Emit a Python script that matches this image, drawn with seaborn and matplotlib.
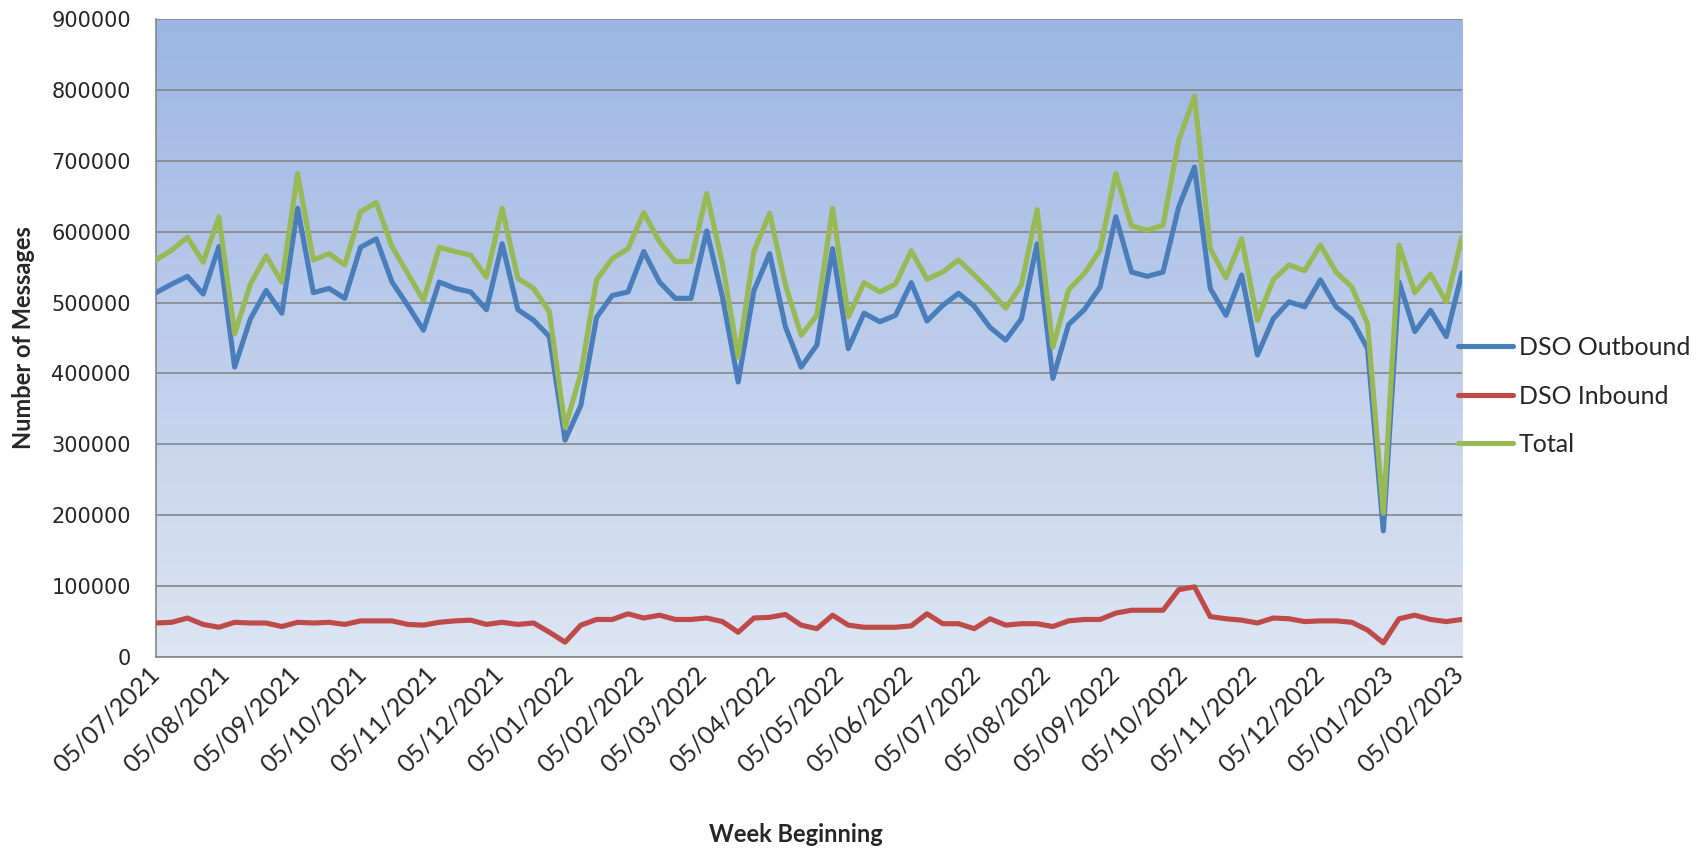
import numpy as np
import pandas as pd
import matplotlib
matplotlib.use("Agg")
import matplotlib.pyplot as plt
import matplotlib.dates as mdates
from matplotlib.colors import LinearSegmentedColormap
from matplotlib.lines import Line2D
import seaborn as sns

# weekly message counts
weeks = pd.date_range("2021-07-05", periods=84, freq="7D")

outbound = [514000, 526000, 537000, 512000, 579000, 409000, 477000, 517000, 485000, 633000,
            514000, 520000, 506000, 578000, 590000, 529000, 496000, 461000, 529000, 520000,
            515000, 490000, 583000, 490000, 475000, 452000, 306000, 355000, 479000, 510000,
            515000, 572000, 529000, 506000, 506000, 601000, 508000, 388000, 517000, 569000,
            466000, 409000, 440000, 576000, 435000, 485000, 473000, 482000, 528000, 474000,
            496000, 513000, 495000, 465000, 447000, 477000, 583000, 393000, 469000, 490000,
            522000, 621000, 543000, 537000, 543000, 635000, 691000, 520000, 482000, 539000,
            426000, 477000, 501000, 494000, 532000, 494000, 476000, 435000, 178000, 529000,
            459000, 489000, 452000, 542000]

inbound = [48000, 49000, 55000, 46000, 42000, 49000, 48000, 48000, 43000, 49000,
           48000, 49000, 46000, 51000, 51000, 51000, 46000, 45000, 49000, 51000,
           52000, 46000, 49000, 46000, 48000, 35000, 21000, 45000, 53000, 53000,
           61000, 55000, 59000, 53000, 53000, 55000, 50000, 35000, 55000, 56000,
           60000, 45000, 40000, 59000, 45000, 42000, 42000, 42000, 44000, 61000,
           47000, 47000, 40000, 54000, 45000, 47000, 47000, 43000, 51000, 53000,
           53000, 62000, 66000, 66000, 66000, 95000, 99000, 57000, 54000, 52000,
           48000, 55000, 54000, 50000, 51000, 51000, 49000, 38000, 20000, 54000,
           59000, 53000, 50000, 53000]

total = [560000, 574000, 592000, 557000, 621000, 456000, 526000, 566000, 529000, 682000,
         560000, 569000, 553000, 628000, 641000, 579000, 541000, 503000, 578000, 572000,
         567000, 536000, 633000, 534000, 520000, 487000, 324000, 400000, 532000, 562000,
         576000, 627000, 586000, 558000, 558000, 654000, 555000, 423000, 572000, 626000,
         525000, 454000, 482000, 633000, 480000, 528000, 515000, 526000, 573000, 533000,
         543000, 560000, 539000, 517000, 492000, 525000, 631000, 437000, 518000, 541000,
         574000, 682000, 608000, 602000, 609000, 729000, 791000, 576000, 535000, 590000,
         475000, 532000, 553000, 545000, 581000, 543000, 522000, 470000, 203000, 581000,
         514000, 540000, 501000, 592000]

series_names = ["DSO Outbound", "DSO Inbound", "Total"]
colors = {"DSO Outbound": "#4A7EBB", "DSO Inbound": "#BE4B48", "Total": "#98B954"}

df = pd.concat([
    pd.DataFrame({"Week": weeks, "Messages": outbound, "Series": "DSO Outbound"}),
    pd.DataFrame({"Week": weeks, "Messages": inbound, "Series": "DSO Inbound"}),
    pd.DataFrame({"Week": weeks, "Messages": total, "Series": "Total"}),
], ignore_index=True)

sns.set_style("white")
plt.rcParams["font.family"] = ["Lato", "DejaVu Sans"]

grid_grey = "#868686"
line_w = 3.7

fig = plt.figure(figsize=(16.99, 8.48), dpi=100)
ax = fig.add_axes([0.0918, 0.2252, 0.7687, 0.7524])

sns.lineplot(data=df, x="Week", y="Messages", hue="Series", hue_order=series_names,
             palette=colors, linewidth=line_w, legend=False, ax=ax, zorder=3)

# vertical gradient fill of the plot area
grad = np.linspace(0, 1, 256).reshape(-1, 1)
cmap = LinearSegmentedColormap.from_list("bg", ["#DDE5F3", "#9CB5E3"])
ax.imshow(grad, extent=[0, 1, 0, 1], transform=ax.transAxes, origin="lower",
          aspect="auto", cmap=cmap, zorder=0)

ax.set_xlim(weeks[0], weeks[-1])
ax.set_ylim(0, 900000)
ax.set_yticks(np.arange(0, 900001, 100000))
ax.yaxis.set_major_formatter(matplotlib.ticker.FuncFormatter(lambda v, p: f"{int(v)}"))
ax.xaxis.set_major_locator(mdates.MonthLocator(bymonthday=5))
ax.xaxis.set_major_formatter(mdates.DateFormatter("%d/%m/%Y"))

ax.set_axisbelow(True)
ax.yaxis.grid(True, color=grid_grey, linewidth=1.2)
ax.xaxis.grid(False)

for side in ["top", "right"]:
    ax.spines[side].set_visible(False)
for side in ["left", "bottom"]:
    ax.spines[side].set_color(grid_grey)
    ax.spines[side].set_linewidth(1.2)

ax.tick_params(axis="both", direction="out", length=6, width=1.2, color=grid_grey)
ax.tick_params(axis="y", pad=12)
for lbl in ax.get_yticklabels():
    lbl.set_fontfamily("DejaVu Sans")
    lbl.set_fontsize(15)
for lbl in ax.get_xticklabels():
    lbl.set_rotation(45)
    lbl.set_ha("right")
    lbl.set_va("center")
    lbl.set_rotation_mode("anchor")
    lbl.set_fontsize(18)

ax.set_xlabel("Week Beginning", fontsize=17, fontweight="bold")
ax.xaxis.label.set_va("baseline")
ax.xaxis.set_label_coords(0.49, -0.2895)
ax.set_ylabel("Number of Messages", fontsize=17, fontweight="bold")
ax.yaxis.label.set_va("center")
ax.yaxis.set_label_coords(-0.1016, 0.5)

handles = [Line2D([], [], color=colors[n], linewidth=line_w, solid_capstyle="round") for n in series_names]
fig.legend(handles, series_names, loc="center left", bbox_to_anchor=(0.858, 0.533),
           frameon=False, fontsize=18, handlelength=2.2, handletextpad=0.25,
           labelspacing=1.02, borderpad=0, borderaxespad=0)

fig.savefig("out.png", dpi=100)
